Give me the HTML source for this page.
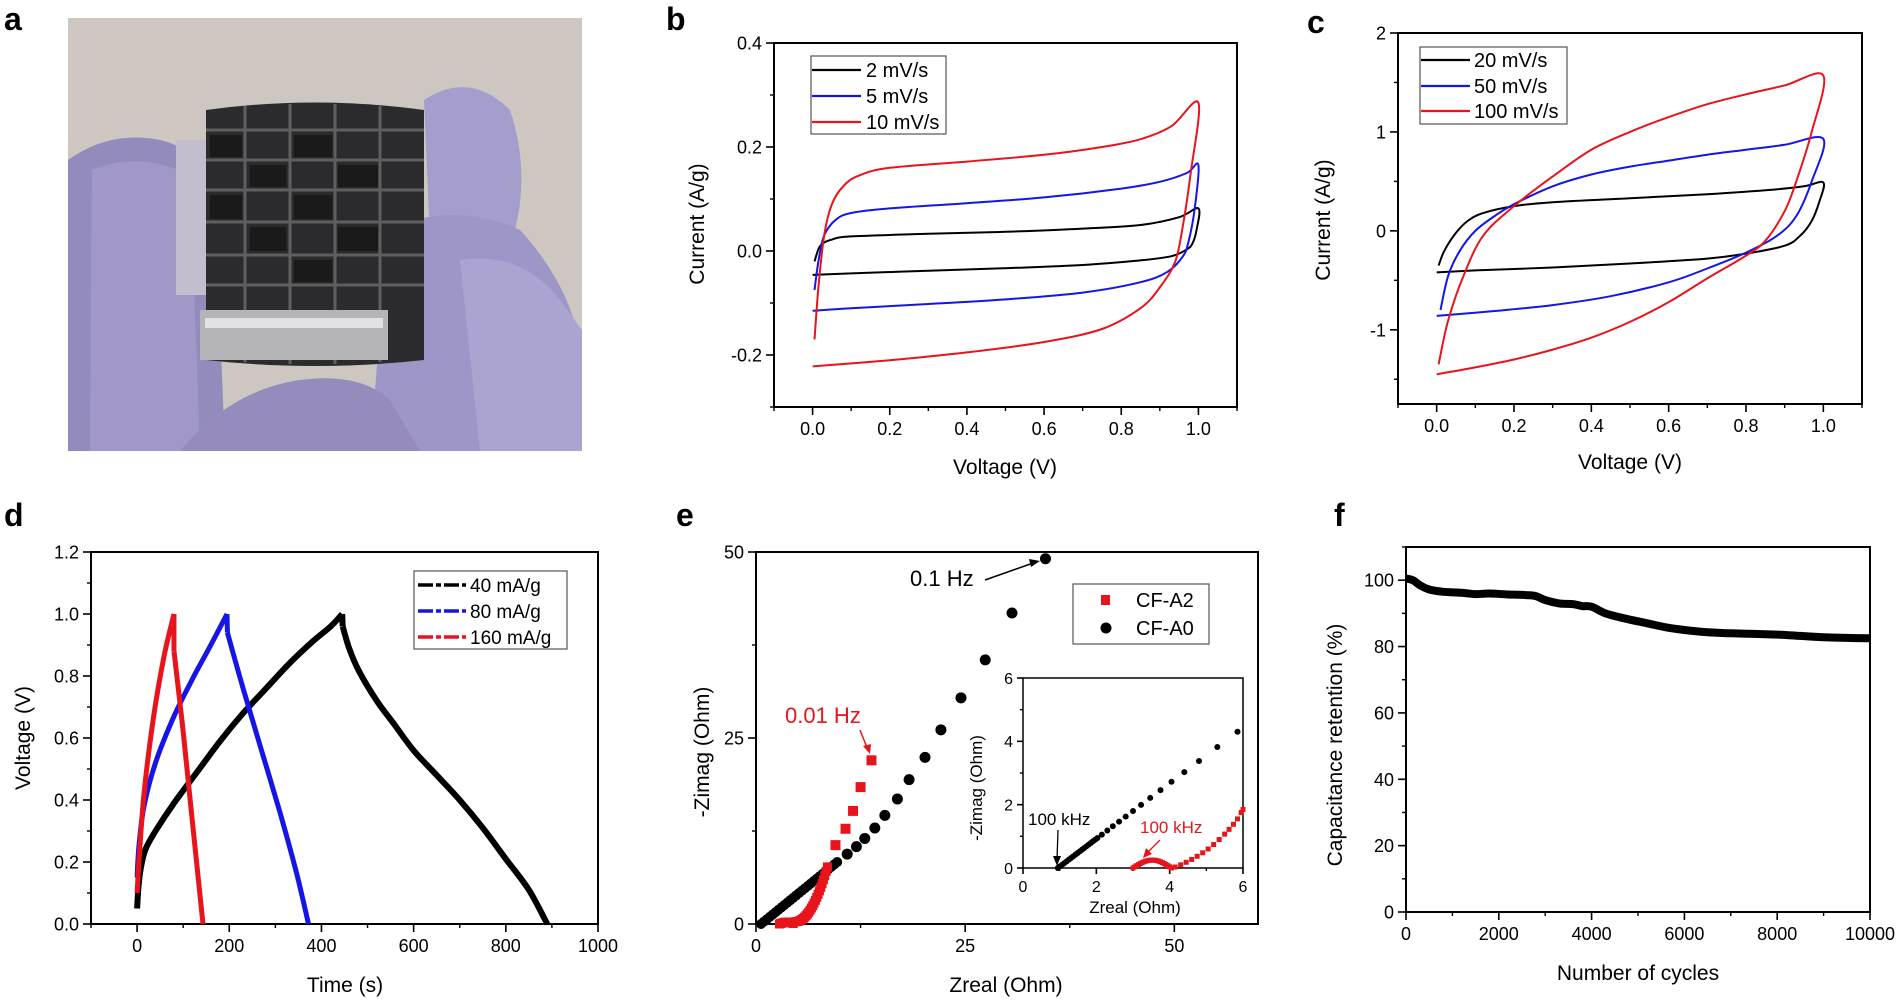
<!DOCTYPE html>
<html><head><meta charset="utf-8"><style>
html,body{margin:0;padding:0;background:#fff;}
svg{display:block;font-family:"Liberation Sans",Arial,sans-serif;}
</style></head><body>
<svg id="s" width="1900" height="1001" viewBox="0 0 1900 1001" xmlns="http://www.w3.org/2000/svg">
<rect width="1900" height="1001" fill="#fff"/>
<g>
<rect x="68" y="18" width="514" height="433" fill="#cec7c1"/>
<path d="M68 160 Q110 130 160 140 Q205 150 215 200 L225 451 L68 451 Z" fill="#948bbd"/>
<path d="M92 170 Q140 150 190 175 L200 451 L90 451 Z" fill="#a198c8"/>
<path d="M424 100 Q470 70 510 110 Q530 170 515 230 L430 240 Z" fill="#a59dcc"/>
<path d="M388 230 Q450 200 520 230 Q575 290 582 360 L582 451 L370 451 Z" fill="#9e96c6"/>
<path d="M180 451 Q230 390 300 380 Q360 372 390 400 L420 451 Z" fill="#958cbd"/>
<path d="M460 260 Q520 250 560 300 L582 330 L582 451 L480 451 Z" fill="#aba3d0"/>
<rect x="176" y="140" width="30" height="155" fill="#c3bdce"/>
<path d="M206 110 Q315 95 424 110 L424 360 Q315 372 206 360 Z" fill="#2b2b2d"/>
<g stroke="#6d6d70" stroke-width="3" opacity="0.8">
<line x1="206" y1="130" x2="424" y2="130"/><line x1="206" y1="160" x2="424" y2="160"/><line x1="206" y1="190" x2="424" y2="190"/><line x1="206" y1="222" x2="424" y2="222"/><line x1="206" y1="255" x2="424" y2="255"/><line x1="206" y1="285" x2="424" y2="285"/>
<line x1="245" y1="106" x2="245" y2="362"/><line x1="290" y1="104" x2="290" y2="364"/><line x1="335" y1="104" x2="335" y2="364"/><line x1="380" y1="106" x2="380" y2="362"/>
</g>
<g fill="#1a1a1b"><rect x="210" y="135" width="32" height="22"/><rect x="294" y="135" width="38" height="22"/><rect x="250" y="165" width="36" height="22"/><rect x="338" y="165" width="40" height="22"/><rect x="210" y="195" width="32" height="24"/><rect x="294" y="195" width="38" height="24"/><rect x="250" y="227" width="36" height="24"/><rect x="338" y="227" width="40" height="24"/><rect x="294" y="260" width="38" height="22"/></g>
<rect x="200" y="310" width="188" height="50" fill="#b5b5b8"/>
<rect x="205" y="318" width="178" height="10" fill="#e2e2e4"/>
</g>
<g id="plots"></g>
</svg>
<script>
const NS="http://www.w3.org/2000/svg";
const G=document.getElementById('plots');
function el(t,a,txt,par){const e=document.createElementNS(NS,t);for(const k in a)e.setAttribute(k,a[k]);if(txt!==undefined)e.textContent=txt;(par||G).appendChild(e);return e;}
function mk(p){p.X=v=>p.L+(v-p.xmin)/(p.xmax-p.xmin)*(p.R-p.L);p.Y=v=>p.B-(v-p.ymin)/(p.ymax-p.ymin)*(p.B-p.T);return p;}
function rng(a,b,s){const r=[];for(let v=a;v<=b+1e-9;v+=s)r.push(+v.toFixed(6));return r;}
function axes(p){
  const fs=p.fs||18, ml=p.ml||8, mn=p.mn||4;
  el('rect',{x:p.L,y:p.T,width:p.R-p.L,height:p.B-p.T,fill:'none',stroke:'#000','stroke-width':p.sw||2});
  p.xt.forEach((v,i)=>{const x=p.X(v);el('line',{x1:x,y1:p.B,x2:x,y2:p.B+ml,stroke:'#000','stroke-width':1.6});
    el('text',{x:x,y:p.B+ml+fs+2,'font-size':fs,'text-anchor':'middle'},p.xf?p.xf(v):String(v));});
  (p.xm||[]).forEach(v=>{const x=p.X(v);el('line',{x1:x,y1:p.B,x2:x,y2:p.B+mn,stroke:'#000','stroke-width':1.4});});
  p.yt.forEach(v=>{const y=p.Y(v);el('line',{x1:p.L,y1:y,x2:p.L-ml,y2:y,stroke:'#000','stroke-width':1.6});
    el('text',{x:p.L-ml-4,y:y+fs*0.36,'font-size':fs,'text-anchor':'end'},p.yf?p.yf(v):String(v));});
  (p.ym||[]).forEach(v=>{const y=p.Y(v);el('line',{x1:p.L,y1:y,x2:p.L-mn,y2:y,stroke:'#000','stroke-width':1.4});});
}
function smooth(pts){
  let d='M'+pts[0][0].toFixed(1)+' '+pts[0][1].toFixed(1);
  for(let i=0;i<pts.length-1;i++){
    const p0=pts[Math.max(0,i-1)],p1=pts[i],p2=pts[i+1],p3=pts[Math.min(pts.length-1,i+2)];
    const c1=[p1[0]+(p2[0]-p0[0])/6,p1[1]+(p2[1]-p0[1])/6],c2=[p2[0]-(p3[0]-p1[0])/6,p2[1]-(p3[1]-p1[1])/6];
    d+=' C'+c1.map(n=>n.toFixed(1)).join(' ')+' '+c2.map(n=>n.toFixed(1)).join(' ')+' '+p2[0].toFixed(1)+' '+p2[1].toFixed(1);
  }return d;}
function curve(p,data,col,w){el('path',{d:smooth(data.map(q=>[p.X(q[0]),p.Y(q[1])])),fill:'none',stroke:col,'stroke-width':w||2,'stroke-linejoin':'round'});}
function lbl(x,y,t,fs,rot,extra){const a={x:x,y:y,'font-size':fs,'text-anchor':'middle'};if(rot)a.transform='rotate(-90 '+x+' '+y+')';Object.assign(a,extra||{});return el('text',a,t);}
const f1=v=>v.toFixed(1);
const R='#e8141b',B='#1515e6',K='#000';

[['a',4,30],['b',666,30],['c',1307,33],['d',4,526],['e',676,526],['f',1334,526]].forEach(q=>el('text',{x:q[1],y:q[2],'font-size':32,'font-weight':'bold'},q[0]));

let b=mk({L:774,R:1237,T:43,B:407,xmin:-0.1,xmax:1.1,ymin:-0.3,ymax:0.4});
b.xt=rng(0,1,0.2);b.xf=f1;b.xm=[-0.1,0.1,0.3,0.5,0.7,0.9,1.1];b.yt=[-0.2,0,0.2,0.4];b.yf=f1;b.ym=[-0.3,-0.1,0.1,0.3];
axes(b);
curve(b,[[.005,-.02],[.02,.01],[.05,.022],[.1,.028],[.3,.033],[.5,.037],[.7,.043],[.85,.05],[.95,.065],[1,.082],[.995,.04],[.985,.015],[.97,.003],[.93,-.01],[.85,-.018],[.7,-.027],[.5,-.033],[.3,-.038],[.1,-.043],[0,-.046]],K);
curve(b,[[.005,-.075],[.015,-.02],[.03,.03],[.06,.06],[.1,.073],[.2,.082],[.4,.092],[.6,.103],[.8,.12],[.9,.133],[.97,.15],[1,.165],[.99,.08],[.975,.02],[.96,-.01],[.92,-.04],[.85,-.06],[.7,-.08],[.5,-.093],[.3,-.102],[.1,-.11],[0,-.115]],B);
curve(b,[[.005,-.17],[.015,-.07],[.03,.03],[.05,.09],[.08,.125],[.12,.145],[.2,.16],[.4,.172],[.6,.185],[.75,.2],[.85,.215],[.93,.24],[1,.285],[.98,.15],[.96,.05],[.94,-.02],[.9,-.07],[.85,-.11],[.75,-.15],[.6,-.175],[.4,-.195],[.2,-.21],[0,-.222]],R);
el('rect',{x:811,y:56,width:135,height:78,fill:'#fff',stroke:'#555','stroke-width':1.2});
[['2 mV/s',K,70],['5 mV/s',B,96],['10 mV/s',R,122]].forEach(q=>{el('line',{x1:812,y1:q[2],x2:861,y2:q[2],stroke:q[1],'stroke-width':2.2});el('text',{x:866,y:q[2]+7,'font-size':20},q[0]);});
lbl(1005,474,'Voltage (V)',21);lbl(704,224,'Current (A/g)',21,true);

let c=mk({L:1398,R:1862,T:33,B:404,xmin:-0.1,xmax:1.1,ymin:-1.75,ymax:2});
c.xt=rng(0,1,0.2);c.xf=f1;c.xm=[-0.1,0.1,0.3,0.5,0.7,0.9,1.1];c.yt=[-1,0,1,2];c.ym=[-1.5,-0.5,0.5,1.5];
axes(c);
curve(c,[[.005,-.35],[.02,-.2],[.05,-.02],[.08,.1],[.12,.18],[.2,.25],[.3,.29],[.5,.33],[.7,.37],[.85,.41],[.95,.45],[1,.49],[.99,.3],[.97,.1],[.94,-.05],[.9,-.15],[.8,-.23],[.7,-.28],[.5,-.33],[.3,-.37],[.1,-.4],[0,-.42]],K);
curve(c,[[.01,-.8],[.03,-.45],[.06,-.2],[.1,0],[.15,.15],[.2,.27],[.3,.45],[.4,.57],[.5,.65],[.6,.71],[.7,.77],[.8,.82],[.9,.87],[1,.93],[.97,.5],[.93,.15],[.88,-.05],[.8,-.22],[.7,-.38],[.6,-.52],[.45,-.66],[.3,-.75],[.15,-.81],[0,-.86]],B);
curve(c,[[.005,-1.35],[.03,-.9],[.07,-.45],[.12,-.05],[.2,.25],[.3,.55],[.4,.82],[.5,1.0],[.6,1.15],[.7,1.28],[.8,1.38],[.9,1.47],[1,1.57],[.97,1.0],[.93,.5],[.9,.2],[.85,-.1],[.8,-.25],[.7,-.48],[.6,-.72],[.5,-.92],[.4,-1.08],[.3,-1.2],[.2,-1.3],[.1,-1.38],[0,-1.45]],R);
el('rect',{x:1420,y:47,width:147,height:77,fill:'#fff',stroke:'#555','stroke-width':1.2});
[['20 mV/s',K,60],['50 mV/s',B,86],['100 mV/s',R,111]].forEach(q=>{el('line',{x1:1421,y1:q[2],x2:1470,y2:q[2],stroke:q[1],'stroke-width':2.2});el('text',{x:1474,y:q[2]+7,'font-size':20},q[0]);});
lbl(1630,469,'Voltage (V)',21);lbl(1330,220,'Current (A/g)',21,true);

let d=mk({L:91,R:598,T:552,B:924,xmin:-100,xmax:1000,ymin:0,ymax:1.2});
d.xt=rng(0,1000,200);d.xm=rng(-100,900,200);d.yt=rng(0,1.2,0.2);d.yf=f1;d.ym=rng(0.1,1.1,0.2);
axes(d);
curve(d,[[0,.05],[3,.12],[8,.18],[18,.24],[40,.3],[80,.39],[130,.49],[180,.59],[230,.68],[280,.76],[330,.84],[380,.91],[420,.96],[445,1.0]],K,6);
el('line',{x1:d.X(445),y1:d.Y(1.0),x2:d.X(446),y2:d.Y(.96),stroke:K,'stroke-width':6});
curve(d,[[446,.96],[460,.89],[480,.82],[520,.72],[560,.64],[600,.56],[650,.48],[700,.4],[750,.31],[800,.21],[850,.11],[890,0]],K,6);
curve(d,[[0,.15],[4,.25],[15,.38],[40,.52],[80,.67],[120,.79],[160,.9],[195,1.0]],B,5);
el('line',{x1:d.X(195),y1:d.Y(1.0),x2:d.X(196),y2:d.Y(.94),stroke:B,'stroke-width':5});
curve(d,[[196,.94],[230,.76],[270,.56],[310,.36],[345,.17],[372,0]],B,5);
curve(d,[[0,.1],[4,.2],[15,.42],[35,.66],[58,.86],[80,1.0]],R,5);
el('line',{x1:d.X(80),y1:d.Y(1.0),x2:d.X(80),y2:d.Y(.88),stroke:R,'stroke-width':5});
curve(d,[[80,.88],[100,.62],[120,.33],[143,0]],R,5);
el('rect',{x:414,y:571,width:153,height:78,fill:'#fff',stroke:'#555','stroke-width':1.2});
[['40 mA/g',K,585],['80 mA/g',B,611],['160 mA/g',R,637]].forEach(q=>{el('line',{x1:418,y1:q[2],x2:466,y2:q[2],stroke:q[1],'stroke-width':3.5,'stroke-dasharray':'15 3 5 3'});el('text',{x:470,y:q[2]+7,'font-size':19},q[0]);});
lbl(345,992,'Time (s)',21);lbl(30,738,'Voltage (V)',21,true);

let e=mk({L:756,R:1258,T:552,B:924,xmin:0,xmax:60,ymin:0,ymax:50});
e.xt=[0,25,50];e.xm=[12.5,37.5];e.yt=[0,25,50];e.ym=[12.5,37.5];
axes(e);
for(let x=0.6;x<=9.9;x+=0.35){el('circle',{cx:e.X(x),cy:e.Y((x-0.6)*0.915),r:5,fill:K});}
[[34.6,49.1],[30.6,41.8],[27.4,35.5],[24.5,30.4],[22.1,26.1],[20.2,22.4],[18.3,19.4],[16.9,16.8],[15.4,14.6],[14.2,12.9],[13,11.5],[12,10.4],[10.9,9.4]].forEach(q=>el('circle',{cx:e.X(q[0]),cy:e.Y(q[1]),r:5.5,fill:K}));
const red=[];for(let x=2.8;x<=4.6;x+=0.15)red.push([x,0.25*Math.sin((x-2.8)/1.8*Math.PI)]);
for(let t=0;t<=1;t+=0.04){red.push([4.7+4*t,0.3+8*t*t]);}
red.forEach(q=>el('rect',{x:e.X(q[0])-4.5,y:e.Y(q[1])-4.5,width:9,height:9,fill:R}));
[[9.5,10.6],[10.7,12.8],[11.6,15.2],[12.5,18.4],[13.8,22]].forEach(q=>el('rect',{x:e.X(q[0])-5,y:e.Y(q[1])-5,width:10,height:10,fill:R}));
el('text',{x:910,y:586,'font-size':22},'0.1 Hz');
el('line',{x1:985,y1:580,x2:1036,y2:562,stroke:K,'stroke-width':1.5});el('path',{d:'M1040 561 L1029 559 L1031 567 Z',fill:K});
el('text',{x:785,y:723,'font-size':22,fill:R},'0.01 Hz');
el('line',{x1:860,y1:730,x2:868,y2:750,stroke:R,'stroke-width':1.5});el('path',{d:'M870 754 L863 746 L871 744 Z',fill:R});
el('rect',{x:1073,y:584,width:136,height:60,fill:'#fff',stroke:'#555','stroke-width':1.2});
el('rect',{x:1101,y:595,width:9,height:10,fill:R});el('text',{x:1136,y:607,'font-size':20},'CF-A2');
el('circle',{cx:1106,cy:628,r:5.5,fill:K});el('text',{x:1136,y:635,'font-size':20},'CF-A0');
lbl(1006,992,'Zreal (Ohm)',21);lbl(709,752,'-Zimag (Ohm)',21,true);
let n=mk({L:1023,R:1243,T:678,B:868,xmin:0,xmax:6,ymin:0,ymax:6});
n.xt=[0,2,4,6];n.xm=[1,3,5];n.yt=[0,2,4,6];n.ym=[1,3,5];n.fs=16;n.ml=6;n.mn=3;n.sw=1.5;
axes(n);
for(let x=0.95;x<=2.05;x+=0.06)el('circle',{cx:n.X(x),cy:n.Y((x-0.95)*0.878),r:3,fill:K});
[2.15,2.3,2.45,2.62,2.8,3.0,3.22,3.47,3.75,4.05,4.4,4.8,5.3,5.85].forEach(x=>el('circle',{cx:n.X(x),cy:n.Y((x-0.95)*0.878),r:3,fill:K}));
const rr=[];for(let x=3.0;x<=4.05;x+=0.05)rr.push([x,0.25*Math.sin((x-3)/1.05*Math.PI)]);
[[4.15,.03],[4.3,.1],[4.45,.18],[4.6,.27],[4.75,.37],[4.9,.48],[5.05,.6],[5.2,.74],[5.35,.9],[5.5,1.07],[5.62,1.22],[5.74,1.38],[5.85,1.55],[5.95,1.75],[6.0,1.85]].forEach(q=>rr.push(q));
rr.forEach(q=>el('rect',{x:n.X(q[0])-2.5,y:n.Y(q[1])-2.5,width:5,height:5,fill:R}));
el('text',{x:1028,y:825,'font-size':17},'100 kHz');
el('line',{x1:1058,y1:830,x2:1057,y2:860,stroke:K,'stroke-width':1.3});el('path',{d:'M1057 866 L1053 856 L1061 856 Z',fill:K});
el('text',{x:1140,y:833,'font-size':17,fill:R},'100 kHz');
el('line',{x1:1160,y1:840,x2:1147,y2:853,stroke:R,'stroke-width':1.3});el('path',{d:'M1143 858 L1146 848 L1152 854 Z',fill:R});
lbl(1135,913,'Zreal (Ohm)',17);lbl(982,788,'-Zimag (Ohm)',17,true);

let f=mk({L:1406,R:1870,T:547,B:912,xmin:0,xmax:10000,ymin:0,ymax:110});
f.xt=rng(0,10000,2000);f.xm=rng(1000,9000,2000);f.yt=rng(0,100,20);f.ym=rng(10,110,20);
axes(f);
curve(f,[[0,100.5],[150,100],[300,98.5],[500,97.2],[800,96.5],[1200,96.2],[1500,95.8],[1800,96],[2200,95.7],[2600,95.5],[2800,95.2],[3000,94],[3300,93],[3600,92.8],[3800,92.2],[4000,92],[4300,90],[4700,88.5],[5200,87],[5600,85.8],[6000,85],[6500,84.3],[7000,84],[7500,83.8],[8000,83.6],[8500,83.2],[9000,82.8],[9500,82.6],[10000,82.5]],K,8);
lbl(1638,980,'Number of cycles',21);lbl(1342,745,'Capacitance retention (%)',21,true);
</script>
</body></html>
